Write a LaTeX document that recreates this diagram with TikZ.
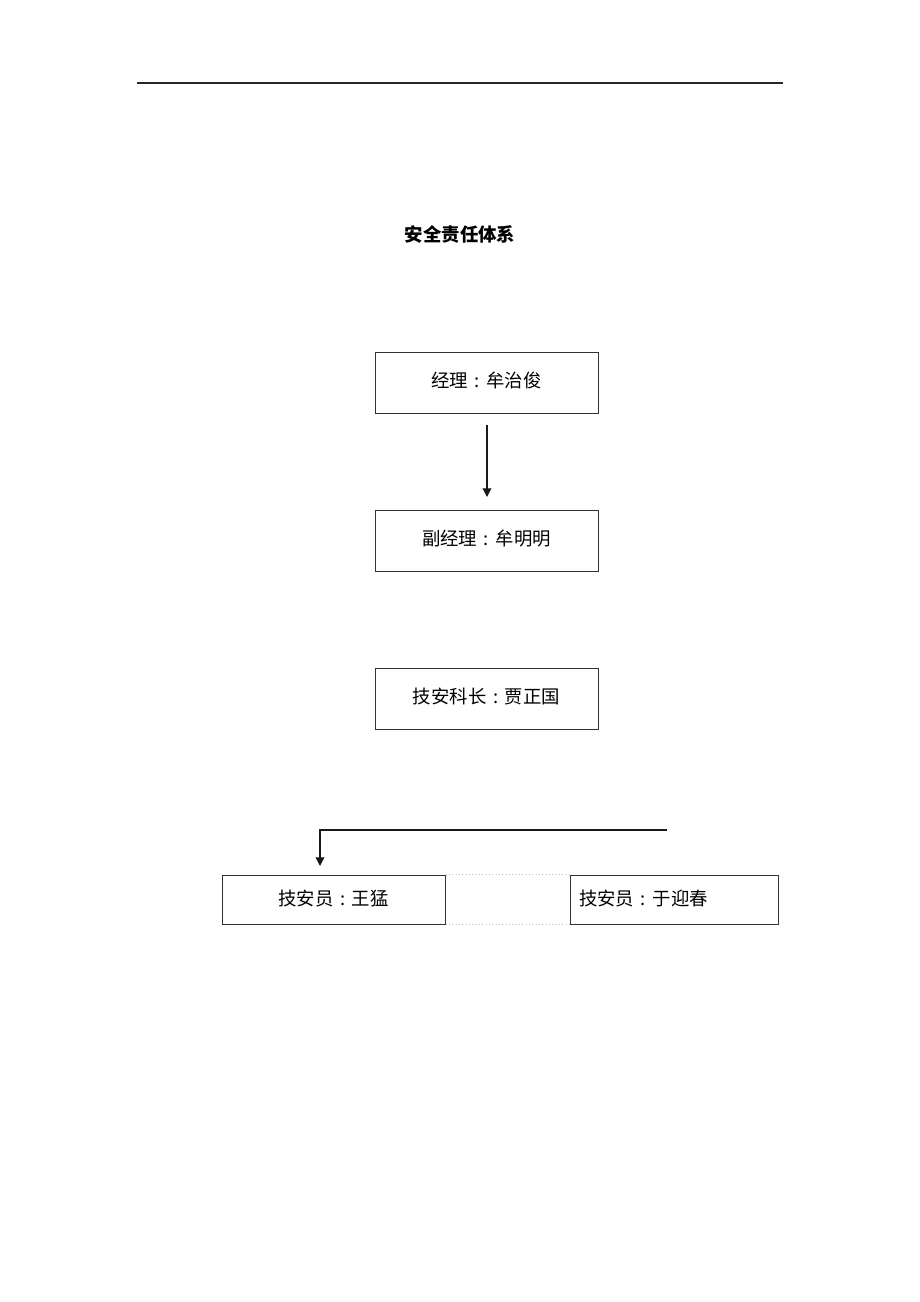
\documentclass[tikz,border=0pt]{standalone}
\usepackage{fontspec}
\newfontfamily\cjk{Noto Sans CJK SC}
\newcommand{\cc}{\makebox[1em][c]{:}}
\newcommand{\up}[2]{\raisebox{#1}[\height][\depth]{#2}}
\usetikzlibrary{arrows.meta}
\begin{document}
\begin{tikzpicture}[x=0.75pt,y=-0.75pt,
  box/.style={draw=black!80,line width=0.75pt,inner sep=0pt,minimum width=223*0.75pt,minimum height=61*0.75pt,font=\cjk\fontsize{13.8pt}{16pt}\selectfont},
  conn/.style={draw=black!90,line width=0.9pt,-{Triangle[length=6.5pt,width=6.5pt]}},
  faint/.style={draw=black!25,line width=0.5pt,dotted}]
\useasboundingbox[fill=white] (0,0) rectangle (920,1302);
\coordinate (hl) at (137,83);
\coordinate (hr) at (783,83);
\draw[black!85,line width=1pt] (hl) -- (hr);
\node[font=\cjk\bfseries\fontsize{13.8pt}{16pt}\selectfont] (title) at (460,234) {安全责任体系};
\node[box] (m) at (486.5,382.5) {\up{1.5pt}{经理\cc 牟治俊}};
\node[box] (dm) at (486.5,540.5) {\up{1.5pt}{副经理\cc 牟明明}};
\node[box] (k) at (486.5,698.5) {\up{1.5pt}{技安科长\cc 贾正国}};
\node[box,minimum width=223*0.75pt,minimum height=49*0.75pt] (a1) at (333.5,899.5) {\up{1pt}{技安员\cc 王猛}};
\node[box,minimum width=208*0.75pt,minimum height=49*0.75pt,text width=190*0.75pt,align=left] (a2) at (674,899.5) {\up{1pt}{技安员\cc 于迎春}};
\coordinate (s1) at (487,425);
\coordinate (e1) at (487,497);
\draw[conn] (s1) -- (e1);
\coordinate (s2) at (667,830);
\coordinate (c2) at (320,830);
\coordinate (e2) at (320,866);
\draw[conn] (s2) -- (c2) -- (e2);
\draw[faint] (a1.north east) -- (a2.north west);
\draw[faint] (a1.south east) -- (a2.south west);
\end{tikzpicture}
\end{document}
